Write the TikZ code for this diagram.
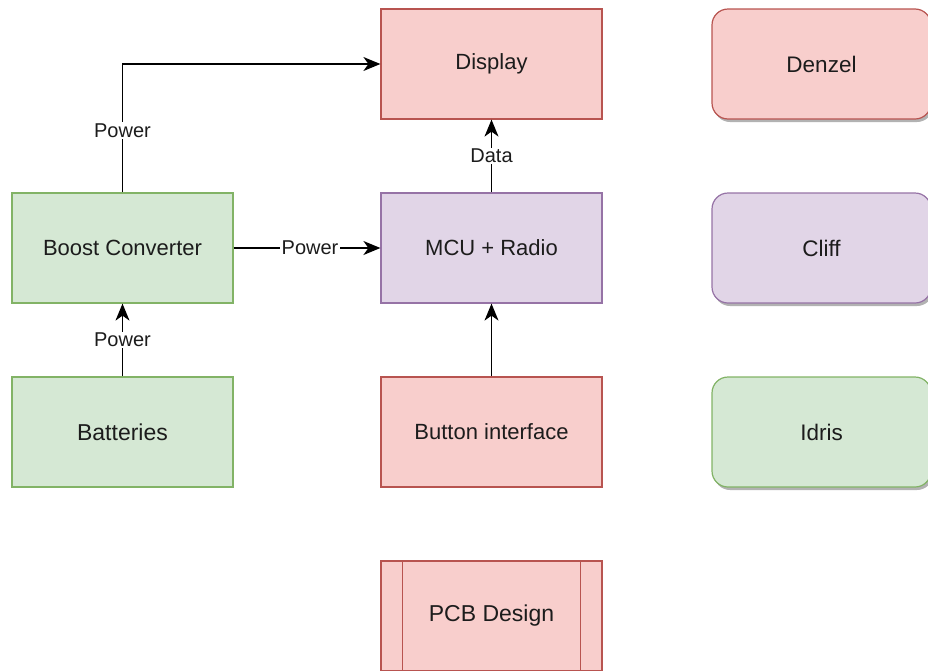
\documentclass[tikz,border=0pt]{standalone}
\usepackage{fontspec}
\setmainfont{Liberation Sans}
\usetikzlibrary{arrows.meta,calc,shadows}
\definecolor{redfill}{HTML}{F8CECC}
\definecolor{redline}{HTML}{B85450}
\definecolor{greenfill}{HTML}{D5E8D4}
\definecolor{greenline}{HTML}{82B366}
\definecolor{purplefill}{HTML}{E1D5E7}
\definecolor{purpleline}{HTML}{9673A6}
\definecolor{txt}{HTML}{1C1C1C}
\tikzset{
  block/.style={draw, line width=1.2pt, minimum width=221pt, minimum height=110pt,
    inner sep=0pt, text=txt, font=\fontsize{22}{26}\selectfont},
  redblock/.style={block, fill=redfill, draw=redline},
  greenblock/.style={block, fill=greenfill, draw=greenline},
  purpleblock/.style={block, fill=purplefill, draw=purpleline},
  person/.style={rounded corners=16pt, minimum width=219pt,
    font=\fontsize{22.5}{26}\selectfont,
    drop shadow={shadow xshift=2pt, shadow yshift=-3pt, fill=black, opacity=0.3}},
  link/.style={line width=1.4pt, arrows={-Stealth[length=17pt,width=14pt,inset=5pt]}},
  lbl/.style={fill=white, inner sep=1.5pt, text=txt, font=\fontsize{20}{23}\selectfont}
}
\begin{document}
\begin{tikzpicture}[x=1pt,y=-1pt]
\useasboundingbox (0,0) rectangle (928,670);

% main blocks
\node[redblock] (display) at (491.5,64) {Display};
\node[purpleblock] (mcu) at (491.5,248) {MCU + Radio};
\node[redblock] (button) at (491.5,432) {Button interface};
\node[redblock, font=\fontsize{23}{27}\selectfont] (pcb) at (491.5,616) {PCB Design};
\draw[redline, line width=1.2pt] ($(pcb.north west)+(22,0)$) -- ($(pcb.south west)+(22,0)$);
\draw[redline, line width=1.2pt] ($(pcb.north east)+(-22,0)$) -- ($(pcb.south east)+(-22,0)$);

\node[greenblock] (boost) at (122.5,248) {Boost Converter};
\node[greenblock, font=\fontsize{23}{27}\selectfont] (batt) at (122.5,432) {Batteries};

% team members
\node[redblock, person] (denzel) at (821.5,64) {Denzel};
\node[purpleblock, person] (cliff) at (821.5,248) {Cliff};
\node[greenblock, person] (idris) at (821.5,432) {Idris};

% connections
\draw[link] (boost.north) |- node[lbl, pos=0.24] {Power} (display.west);
\draw[link] (boost.east) -- node[lbl, xshift=3pt] {Power} (mcu.west);
\draw[link] (batt.north) -- node[lbl] {Power} (boost.south);
\draw[link] (mcu.north) -- node[lbl] {Data} (display.south);
\draw[link] (button.north) -- (mcu.south);
\end{tikzpicture}
\end{document}
